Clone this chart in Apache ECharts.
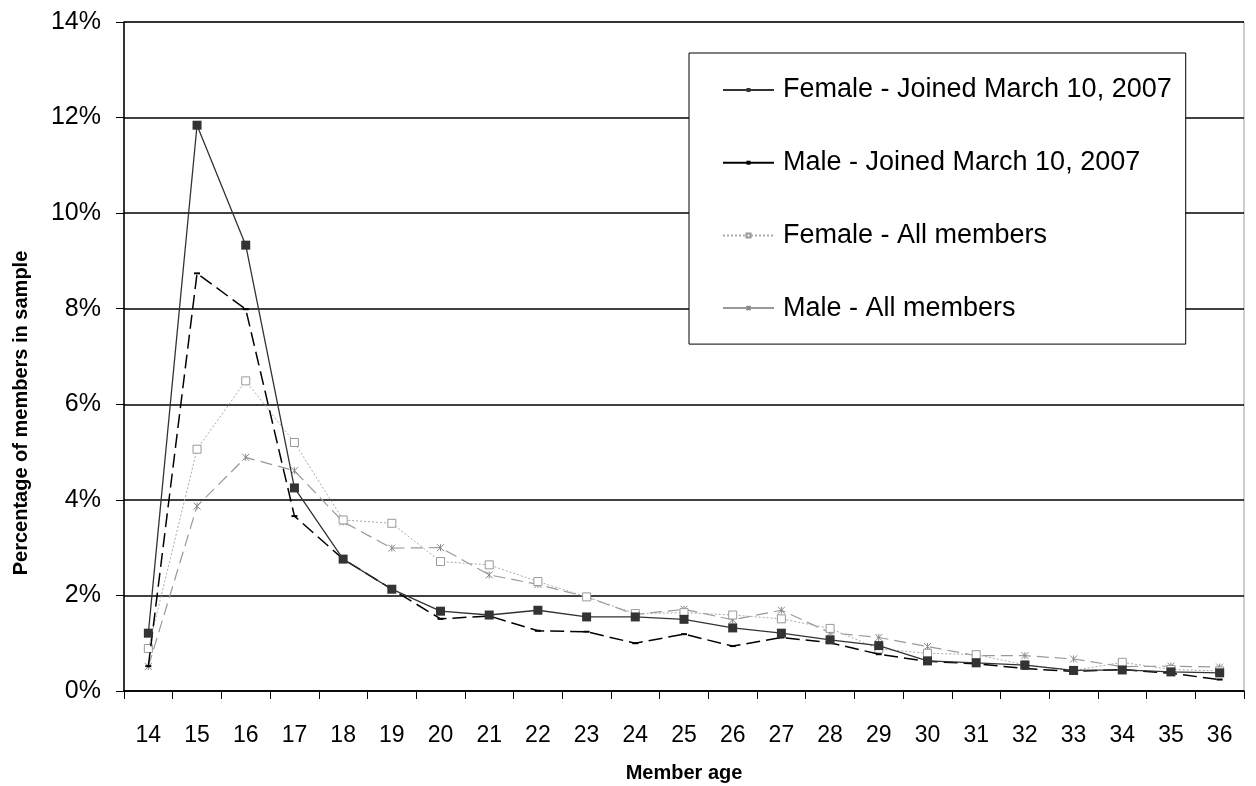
<!DOCTYPE html>
<html>
<head>
<meta charset="UTF-8">
<title>Member age</title>
<script src="https://cdn.jsdelivr.net/npm/echarts@6/dist/echarts.min.js"></script>
<style>
  html, body { margin: 0; padding: 0; background: #fff; }
  #main { width: 1256px; height: 786px; }
</style>
</head>
<body>
<div id="main"></div>
<script>
// member ages on the x axis
var ages = ['14','15','16','17','18','19','20','21','22','23','24','25','26','27','28','29','30','31','32','33','34','35','36'];

// percentages
var femaleJoined = [1.21, 11.84, 9.33, 4.25, 2.76, 2.13, 1.67, 1.59, 1.69, 1.55, 1.55, 1.50, 1.32, 1.21, 1.07, 0.95, 0.63, 0.59, 0.54, 0.43, 0.44, 0.40, 0.38];
var maleJoined   = [0.52, 8.74, 7.99, 3.66, 2.76, 2.13, 1.51, 1.57, 1.26, 1.24, 1.00, 1.19, 0.94, 1.12, 1.01, 0.77, 0.62, 0.57, 0.47, 0.41, 0.45, 0.37, 0.24];
var femaleAll    = [0.89, 5.06, 6.49, 5.20, 3.58, 3.51, 2.71, 2.64, 2.29, 1.97, 1.62, 1.64, 1.59, 1.51, 1.31, 0.88, 0.79, 0.76, 0.55, 0.43, 0.60, 0.45, 0.42];
var maleAll      = [0.51, 3.87, 4.89, 4.61, 3.54, 2.99, 3.00, 2.43, 2.23, 1.97, 1.60, 1.71, 1.49, 1.69, 1.22, 1.12, 0.93, 0.74, 0.74, 0.67, 0.51, 0.52, 0.50];

var seriesNames = ['Female - Joined March 10, 2007', 'Male - Joined March 10, 2007', 'Female - All members', 'Male - All members'];

var font = '"Liberation Sans", Arial, sans-serif';
var crossMark = 'path://M0,0L10,10M10,0L0,10M5,0L5,10';
var chart = echarts.init(document.getElementById('main'));

var option = {
  animation: false,
  backgroundColor: '#fff',
  grid: {
    left: 124, right: 12, top: 22, bottom: 95,
    outerBoundsMode: 'none',
    show: true, borderColor: '#999', borderWidth: 1
  },
  legend: {
    orient: 'vertical',
    left: 689, top: 53,
    padding: [22, 14, 21, 33],
    borderColor: '#000', borderWidth: 1,
    backgroundColor: '#fff',
    itemWidth: 51, itemHeight: 5, itemGap: 42.7,
    textStyle: { fontFamily: font, fontSize: 27, color: '#000', lineHeight: 30, padding: [0, 0, 0, 4] },
    data: [
      { name: seriesNames[0], lineStyle: { type: 'solid' } },
      { name: seriesNames[1], lineStyle: { type: 'solid' } },
      { name: seriesNames[2] },
      { name: seriesNames[3], lineStyle: { type: 'solid' } }
    ]
  },
  xAxis: {
    type: 'category',
    data: ages,
    boundaryGap: true,
    name: 'Member age',
    nameLocation: 'middle',
    nameGap: 72,
    nameTextStyle: { fontFamily: font, fontSize: 20, fontWeight: 'bold', color: '#000' },
    axisLine: { lineStyle: { color: '#000', width: 1.5 } },
    axisTick: { show: true, length: 8, alignWithLabel: false, lineStyle: { color: '#000' } },
    axisLabel: { fontFamily: font, fontSize: 23, color: '#000', margin: 33, interval: 0 },
    splitLine: { show: false }
  },
  yAxis: {
    type: 'value',
    min: 0, max: 14, interval: 2,
    axisLine: { show: true, lineStyle: { color: '#000', width: 1.5 } },
    axisTick: { show: true, length: 8, lineStyle: { color: '#000' } },
    axisLabel: { fontFamily: font, fontSize: 25, color: '#000', margin: 23, formatter: '{value}%' },
    splitLine: { show: true, lineStyle: { color: '#000', width: 1.5 } }
  },
  graphic: [{
    type: 'text',
    x: 21, y: 413,
    rotation: Math.PI / 2,
    style: {
      text: 'Percentage of members in sample',
      fontFamily: font, fontSize: 20, fontWeight: 'bold', fill: '#000',
      align: 'center', verticalAlign: 'middle'
    }
  }],
  series: [
    {
      name: seriesNames[0], type: 'line', data: femaleJoined, z: 5,
      symbol: 'rect', symbolSize: 9,
      lineStyle: { color: '#333', width: 1.3 },
      itemStyle: { color: '#333' }
    },
    {
      name: seriesNames[1], type: 'line', data: maleJoined, z: 4,
      symbol: 'rect', symbolSize: [6, 2],
      lineStyle: { color: '#000', width: 1.5, type: [14, 6] },
      itemStyle: { color: '#000' }
    },
    {
      name: seriesNames[2], type: 'line', data: femaleAll, z: 3,
      symbol: 'rect', symbolSize: 8,
      lineStyle: { color: '#aaa', width: 1, type: [2, 2] },
      itemStyle: { color: '#fff', borderColor: '#999', borderWidth: 1 }
    },
    {
      name: seriesNames[3], type: 'line', data: maleAll, z: 2,
      symbol: crossMark, symbolSize: 7,
      lineStyle: { color: '#999', width: 1.2, type: [12, 6] },
      itemStyle: { color: 'none', borderColor: '#888', borderWidth: 1 }
    }
  ]
};

chart.setOption(option);
</script>
</body>
</html>
